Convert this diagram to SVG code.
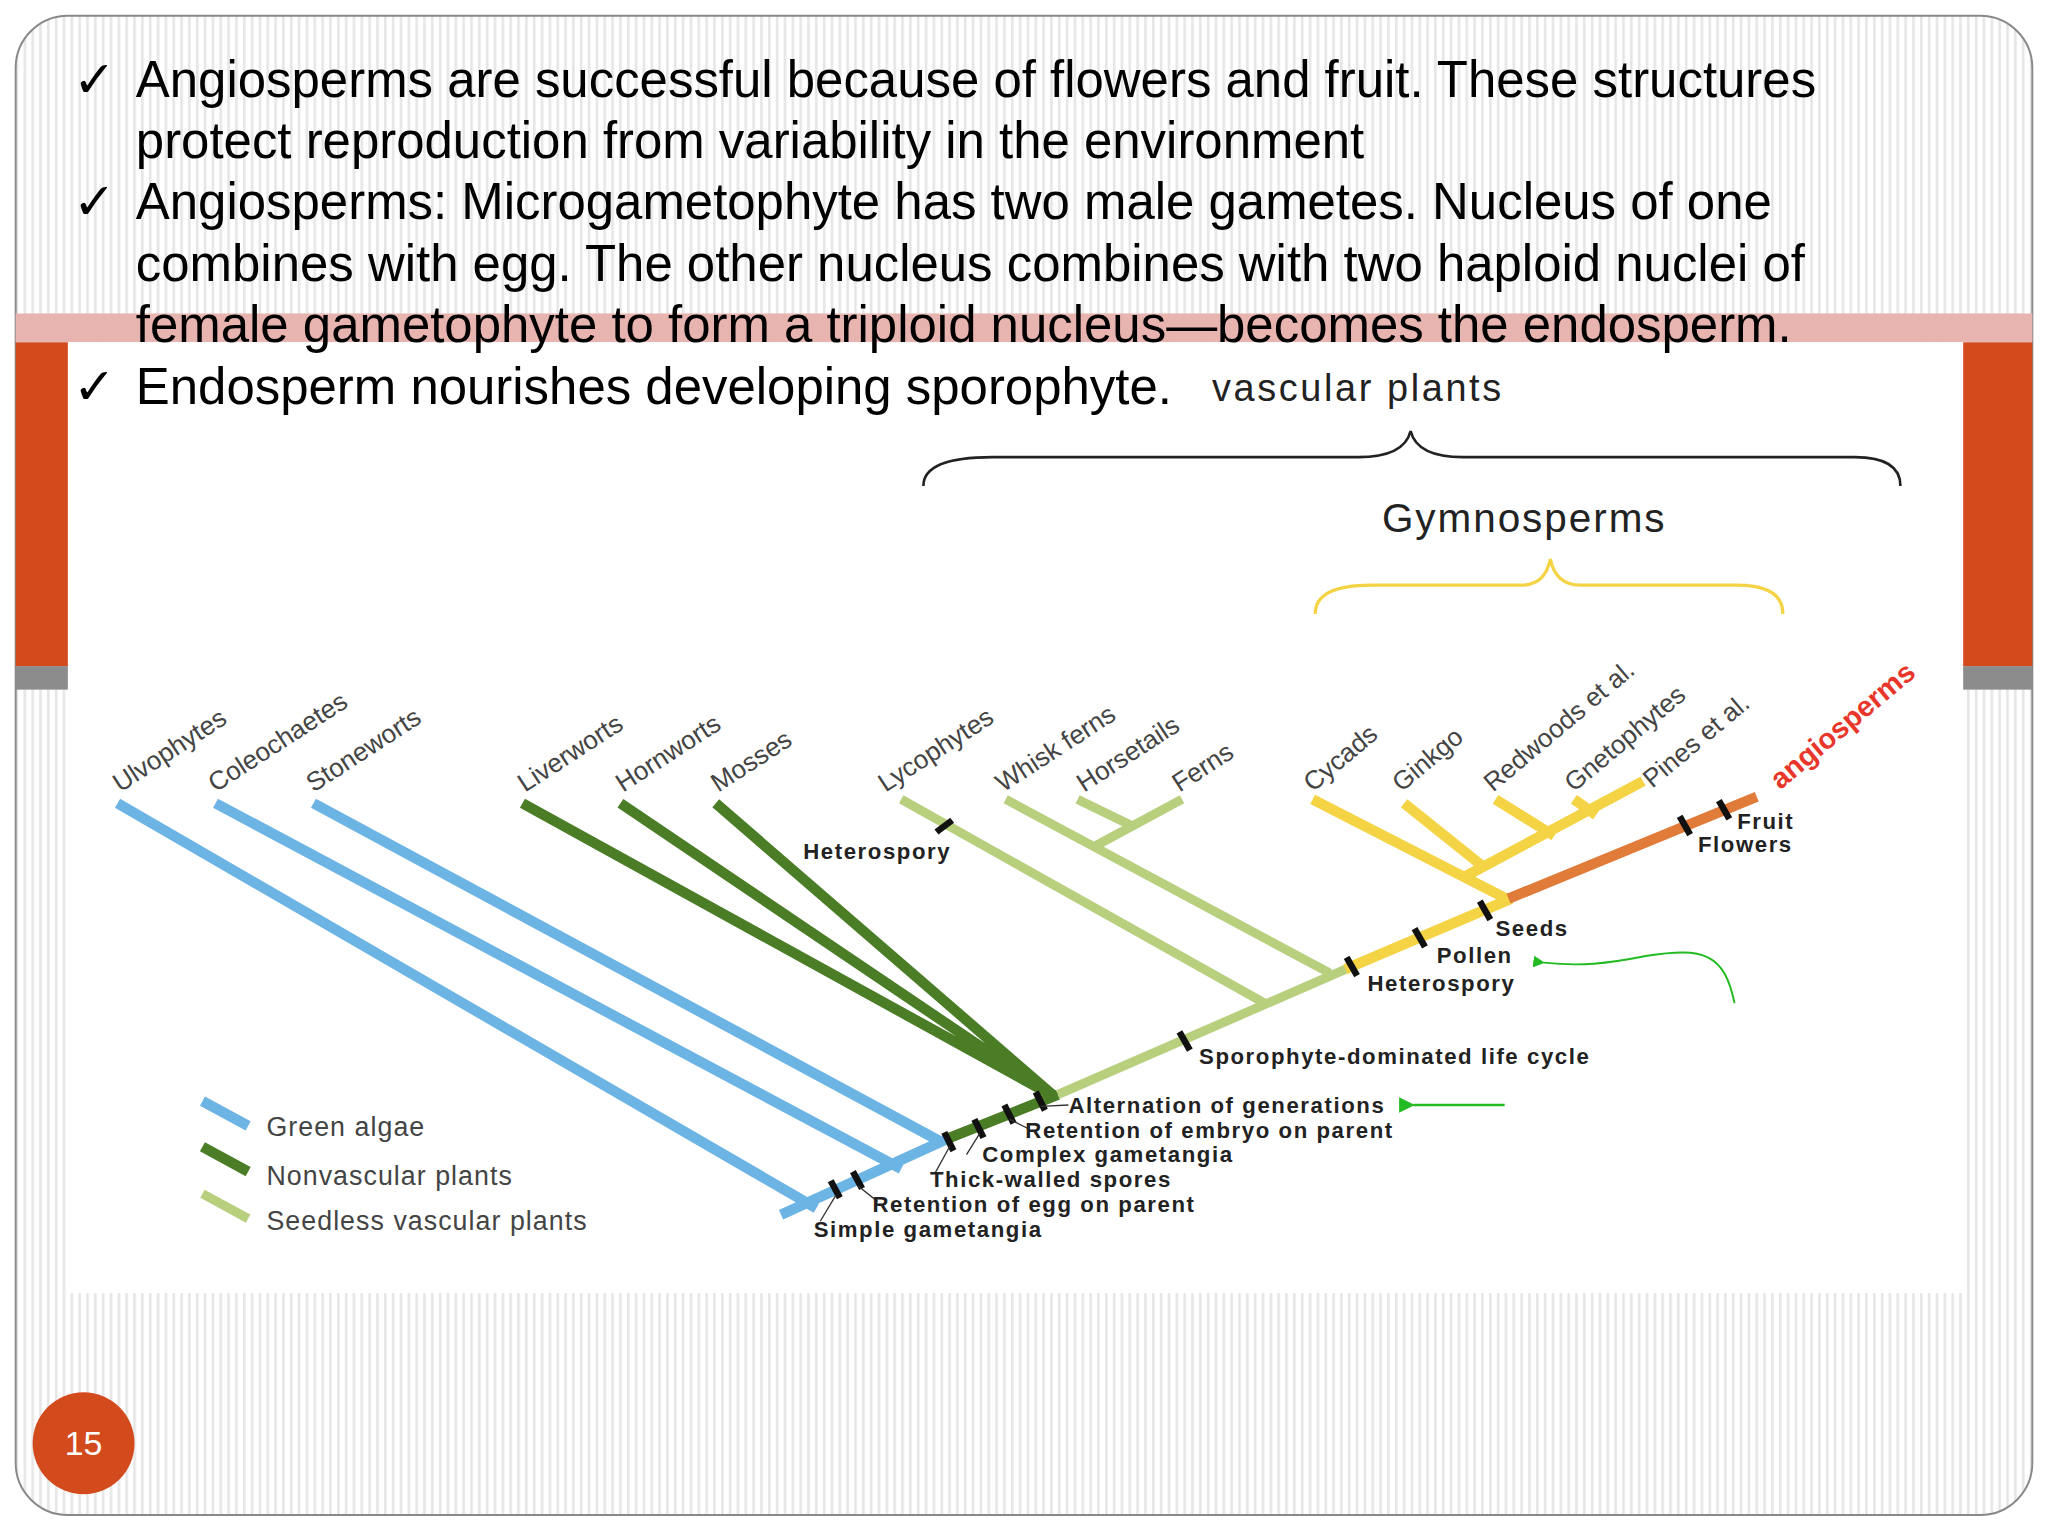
<svg xmlns="http://www.w3.org/2000/svg" width="2048" height="1536" viewBox="0 0 2048 1536">
<defs>
<pattern id="st" width="6" height="10" patternUnits="userSpaceOnUse"><rect width="6" height="10" fill="#fff"/><rect width="2" height="10" fill="#e6e6e6"/></pattern>
<marker id="ga" viewBox="0 0 10 10" refX="1" refY="5" markerWidth="6" markerHeight="6" orient="auto"><path d="M10,0 L0,5 L10,10 z" fill="#22bb22"/></marker>
</defs>
<style>
.t{font-family:"Liberation Sans",Arial,sans-serif;font-size:39px;fill:#000}
.lb{font-family:"Liberation Sans",Arial,sans-serif;font-size:20px;fill:#444}
.sm{font-family:"Liberation Sans",Arial,sans-serif;font-size:17px;font-weight:bold;fill:#222;letter-spacing:1.2px}
.lg{font-family:"Liberation Sans",Arial,sans-serif;font-size:20.5px;fill:#444;letter-spacing:0.8px}
.b{stroke:#6cb4e4;stroke-width:8;fill:none}
.dg{stroke:#4a7d26;stroke-width:8;fill:none}
.lgn{stroke:#b8cf7e;stroke-width:7;fill:none}
.y{stroke:#f4d444;stroke-width:8;fill:none}
.o{stroke:#e07b39;stroke-width:8;fill:none}
.tk{stroke:#111;stroke-width:5}
.ld{stroke:#333;stroke-width:1}
</style>
<g transform="scale(1.30612)">
<g id="frame">
<rect x="12" y="12" width="1544" height="1148" rx="40" fill="url(#st)" stroke="#888" stroke-width="1.5"/>
<rect x="12" y="262" width="40" height="248" fill="#d34a1c"/>
<rect x="12" y="510" width="40" height="18" fill="#8c8c8c"/>
<rect x="1503" y="262" width="53" height="248" fill="#d34a1c"/>
<rect x="1503" y="510" width="53" height="18" fill="#8c8c8c"/>
<rect x="12" y="240" width="1544" height="22" fill="#e8b4b0"/>
<rect x="52" y="262" width="1451" height="728" fill="#fff"/>
</g>
<g id="text">
<text class="t" x="56" y="74">✓</text><text class="t" x="104" y="74">Angiosperms are successful because of flowers and fruit. These structures</text>
<text class="t" x="104" y="121">protect reproduction from variability in the environment</text>
<text class="t" x="56" y="168">✓</text><text class="t" x="104" y="168">Angiosperms: Microgametophyte has two male gametes. Nucleus of one</text>
<text class="t" x="104" y="215">combines with egg. The other nucleus combines with two haploid nuclei of</text>
<text class="t" x="104" y="262">female gametophyte to form a triploid nucleus—becomes the endosperm.</text>
<text class="t" x="56" y="309">✓</text><text class="t" x="104" y="309">Endosperm nourishes developing sporophyte.</text>
</g>
<g id="braces">
<text x="928" y="307" font-family="Liberation Sans,Arial,sans-serif" font-size="29" letter-spacing="2" fill="#222">vascular plants</text>
<path d="M707,372 Q707,350 760,350 L1040,350 Q1075,350 1080,330 Q1085,350 1120,350 L1420,350 Q1455,350 1455,372" fill="none" stroke="#222" stroke-width="2"/>
<text x="1058" y="407" font-family="Liberation Sans,Arial,sans-serif" font-size="31" letter-spacing="1.5" fill="#222">Gymnosperms</text>
<path d="M1007,470 Q1007,448 1050,448 L1165,448 Q1183,448 1187,428 Q1191,448 1210,448 L1330,448 Q1365,448 1365,470" fill="none" stroke="#f4d444" stroke-width="2.5"/>
</g>
<g id="connectors">
<path class="b" d="M90,615 L625,925 M165,615 L690,895 M240,615 L722,875 M598,930 L725,872"/>
<path class="dg" d="M400,615 L808,840 M475,615 L808,840 M548,615 L808,840 M725,872 L810,838"/>
<path class="lgn" d="M810,838 L1035,740 M690,612 L968,768 M770,612 L1018,745 M838,648 L905,612 M825,612 L866,632"/>
<path class="y" d="M1030,742 L1157,688 M1005,612 L1157,690 M1120,672 L1258,598 M1075,615 L1135,663 M1145,612 L1190,640 M1205,612 L1222,624"/>
<path class="o" d="M1155,688 L1345,610"/>
<g class="tk">
<line x1="636" y1="904" x2="643" y2="917"/><line x1="653" y1="897" x2="660" y2="910"/>
<line x1="723" y1="867" x2="730" y2="881"/><line x1="746" y1="857" x2="753" y2="871"/><line x1="769" y1="846" x2="776" y2="860"/><line x1="793" y1="836" x2="800" y2="850"/>
<line x1="717" y1="637" x2="729" y2="628"/>
<line x1="903" y1="790" x2="911" y2="804"/>
<line x1="1031" y1="733" x2="1039" y2="747"/><line x1="1083" y1="711" x2="1091" y2="725"/><line x1="1133" y1="690" x2="1141" y2="704"/>
<line x1="1286" y1="625" x2="1294" y2="639"/><line x1="1316" y1="613" x2="1324" y2="627"/>
</g>
<path class="ld" d="M640,915 L628,935 M657,908 L672,920 M727,878 L716,898 M750,868 L740,884 M773,857 L787,864 M797,847 L818,846"/>
<path d="M1152,846 L1082,846" stroke="#22bb22" stroke-width="2" marker-end="url(#ga)"/>
<path d="M1328,768 C1320,730 1305,725 1260,732 C1230,738 1210,740 1182,737" fill="none" stroke="#22bb22" stroke-width="1.5" marker-end="url(#ga)"/>
</g>
<g id="labels">
<text class="lb" transform="translate(92,607) rotate(-33)">Ulvophytes</text>
<text class="lb" transform="translate(165,607) rotate(-33)">Coleochaetes</text>
<text class="lb" transform="translate(240,607) rotate(-33)">Stoneworts</text>
<text class="lb" transform="translate(402,607) rotate(-33)">Liverworts</text>
<text class="lb" transform="translate(477,607) rotate(-33)">Hornworts</text>
<text class="lb" transform="translate(550,607) rotate(-33)">Mosses</text>
<text class="lb" transform="translate(678,607) rotate(-33)">Lycophytes</text>
<text class="lb" transform="translate(768,607) rotate(-33)">Whisk ferns</text>
<text class="lb" transform="translate(830,607) rotate(-33)">Horsetails</text>
<text class="lb" transform="translate(903,607) rotate(-33)">Ferns</text>
<text class="lb" transform="translate(1005,607) rotate(-40)">Cycads</text>
<text class="lb" transform="translate(1073,607) rotate(-40)">Ginkgo</text>
<text class="lb" transform="translate(1143,607) rotate(-40)">Redwoods et al.</text>
<text class="lb" transform="translate(1205,607) rotate(-40)">Gnetophytes</text>
<text class="lb" transform="translate(1265,604) rotate(-40)">Pines et al.</text>
<text transform="translate(1363,605) rotate(-40)" font-family="Liberation Sans,Arial,sans-serif" font-size="22" font-weight="bold" fill="#e8362a">angiosperms</text>
<text class="sm" x="615" y="658">Heterospory</text>
<text class="sm" x="1330" y="635">Fruit</text>
<text class="sm" x="1300" y="652">Flowers</text>
<text class="sm" x="1145" y="717">Seeds</text>
<text class="sm" x="1100" y="737">Pollen</text>
<text class="sm" x="1047" y="759">Heterospory</text>
<text class="sm" x="918" y="815">Sporophyte-dominated life cycle</text>
<text class="sm" x="818" y="852">Alternation of generations</text>
<text class="sm" x="785" y="871">Retention of embryo on parent</text>
<text class="sm" x="752" y="890">Complex gametangia</text>
<text class="sm" x="712" y="909">Thick-walled spores</text>
<text class="sm" x="668" y="928">Retention of egg on parent</text>
<text class="sm" x="623" y="947">Simple gametangia</text>
</g>
<g id="legend">
<line class="b" x1="155" y1="843" x2="190" y2="862"/>
<line class="dg" x1="155" y1="878" x2="190" y2="897"/>
<line class="lgn" x1="155" y1="914" x2="190" y2="933"/>
<text class="lg" x="204" y="870">Green algae</text>
<text class="lg" x="204" y="907">Nonvascular plants</text>
<text class="lg" x="204" y="942">Seedless vascular plants</text>
</g>
<g id="page">
<circle cx="64" cy="1105" r="39" fill="#d34a1c"/>
<text x="64" y="1114" text-anchor="middle" font-family="Liberation Sans,Arial,sans-serif" font-size="26" fill="#fff">15</text>
</g>
</g>
</svg>
